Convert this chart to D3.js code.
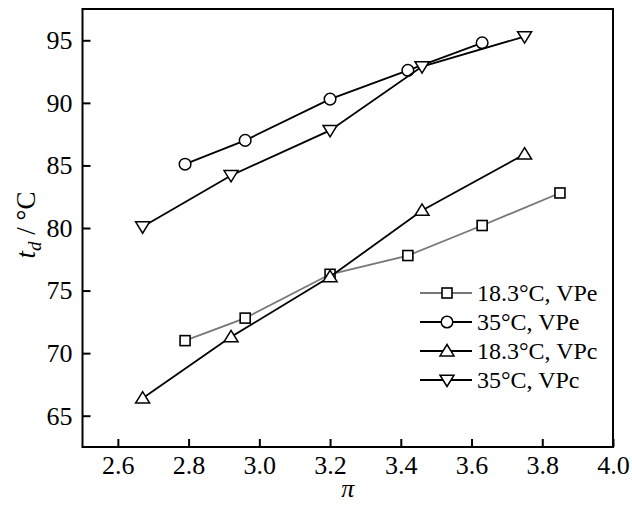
<!DOCTYPE html>
<html>
<head>
<meta charset="utf-8">
<script src="https://cdn.jsdelivr.net/npm/d3@7/dist/d3.min.js"></script>
<style>
  html, body { margin: 0; padding: 0; background: #fff; }
  svg text { font-family: "Liberation Serif", "Times New Roman", serif; fill: #000; }
</style>
</head>
<body>
<svg id="chart" width="632" height="515"></svg>
<script>
// pressure ratio (π) vs. discharge temperature (t_d) for four cases
const seriesNames = ["18.3°C, VPe", "35°C, VPe", "18.3°C, VPc", "35°C, VPc"];
const seriesX = [
  [2.79, 2.96, 3.20, 3.42, 3.63, 3.85],
  [2.79, 2.96, 3.20, 3.42, 3.63],
  [2.67, 2.92, 3.20, 3.46, 3.75],
  [2.67, 2.92, 3.20, 3.46, 3.75]
];
const seriesY = [
  [71.0, 72.8, 76.3, 77.8, 80.2, 82.8],
  [85.1, 87.0, 90.3, 92.6, 94.8],
  [66.4, 71.3, 76.1, 81.4, 85.9],
  [80.1, 84.2, 87.8, 92.9, 95.3]
];
const seriesMarker = ["square", "circle", "up", "down"];
const seriesColor = ["#777777", "#000000", "#000000", "#000000"];
const xTicks = [2.6, 2.8, 3.0, 3.2, 3.4, 3.6, 3.8, 4.0];
const yTicks = [65, 70, 75, 80, 85, 90, 95];

const svg = d3.select("#chart");
const margin = { left: 82.5, right: 19, top: 9, bottom: 68 };
const W = 632, H = 515;

const x = d3.scaleLinear().domain([2.5, 4.0]).range([margin.left, W - margin.right]);
const y = d3.scaleLinear().domain([62.5, 97.5]).range([H - margin.bottom, margin.top]);

// axes with inward ticks
const xAxis = d3.axisBottom(x).tickValues(xTicks).tickFormat(d3.format(".1f"))
  .tickSizeInner(-8).tickSizeOuter(0).tickPadding(9);
const yAxis = d3.axisLeft(y).tickValues(yTicks).tickFormat(d3.format("d"))
  .tickSizeInner(-8).tickSizeOuter(0).tickPadding(10);

const gx = svg.append("g").attr("transform", `translate(0,${y.range()[0]})`).call(xAxis);
const gy = svg.append("g").attr("transform", `translate(${x.range()[0]},0)`).call(yAxis);
[gx, gy].forEach(g => {
  g.select(".domain").remove();
  g.attr("font-family", null);
  g.selectAll(".tick line").attr("stroke", "#000").attr("stroke-width", 2);
  g.selectAll(".tick text").attr("font-size", 26).attr("fill", "#000");
});

// frame
svg.append("rect")
  .attr("x", x.range()[0]).attr("y", y.range()[1])
  .attr("width", x.range()[1] - x.range()[0])
  .attr("height", y.range()[0] - y.range()[1])
  .attr("fill", "none").attr("stroke", "#000").attr("stroke-width", 2);

// marker shapes
function drawMarker(g, type, cx, cy) {
  const s = 5;
  if (type === "square") {
    g.append("rect").attr("x", cx - s).attr("y", cy - s).attr("width", 2 * s).attr("height", 2 * s)
      .attr("fill", "#fff").attr("stroke", "#000").attr("stroke-width", 1.6);
  } else if (type === "circle") {
    g.append("circle").attr("cx", cx).attr("cy", cy).attr("r", 5.8)
      .attr("fill", "#fff").attr("stroke", "#000").attr("stroke-width", 1.5);
  } else if (type === "up") {
    const h = 6.5;
    g.append("path").attr("d", `M${cx},${cy - h} L${cx + 7},${cy + h * 0.75} L${cx - 7},${cy + h * 0.75} Z`)
      .attr("fill", "#fff").attr("stroke", "#000").attr("stroke-width", 1.5);
  } else {
    const h = 6.5;
    g.append("path").attr("d", `M${cx},${cy + h} L${cx + 7},${cy - h * 0.75} L${cx - 7},${cy - h * 0.75} Z`)
      .attr("fill", "#fff").attr("stroke", "#000").attr("stroke-width", 1.5);
  }
}

const line = d3.line().x(d => x(d[0])).y(d => y(d[1]));

seriesNames.forEach((name, i) => {
  const pts = seriesX[i].map((v, j) => [v, seriesY[i][j]]);
  const g = svg.append("g");
  g.append("path").datum(pts).attr("d", line)
    .attr("fill", "none").attr("stroke", seriesColor[i]).attr("stroke-width", 1.8);
  pts.forEach(p => drawMarker(g, seriesMarker[i], x(p[0]), y(p[1])));
});

// legend
const legend = svg.append("g");
const legY0 = 293, legStep = 29;
seriesNames.forEach((name, i) => {
  const ly = legY0 + i * legStep;
  legend.append("line").attr("x1", 420).attr("x2", 472).attr("y1", ly).attr("y2", ly)
    .attr("stroke", seriesColor[i]).attr("stroke-width", 1.8);
  drawMarker(legend, seriesMarker[i], 447, ly);
  legend.append("text").attr("x", 477).attr("y", ly).attr("dy", "0.35em")
    .attr("font-size", 24).text(name);
});

// axis titles
svg.append("text")
  .attr("x", (x.range()[0] + x.range()[1]) / 2).attr("y", 497)
  .attr("text-anchor", "middle").attr("font-size", 26).attr("font-style", "italic")
  .text("π");

const yt = svg.append("text")
  .attr("transform", `translate(35,225) rotate(-90)`)
  .attr("text-anchor", "middle").attr("font-size", 27);
yt.append("tspan").attr("font-style", "italic").text("t");
yt.append("tspan").attr("font-style", "italic").attr("font-size", 19).attr("dy", 6).text("d");
yt.append("tspan").attr("dy", -6).text(" / °C");
</script>
</body>
</html>
